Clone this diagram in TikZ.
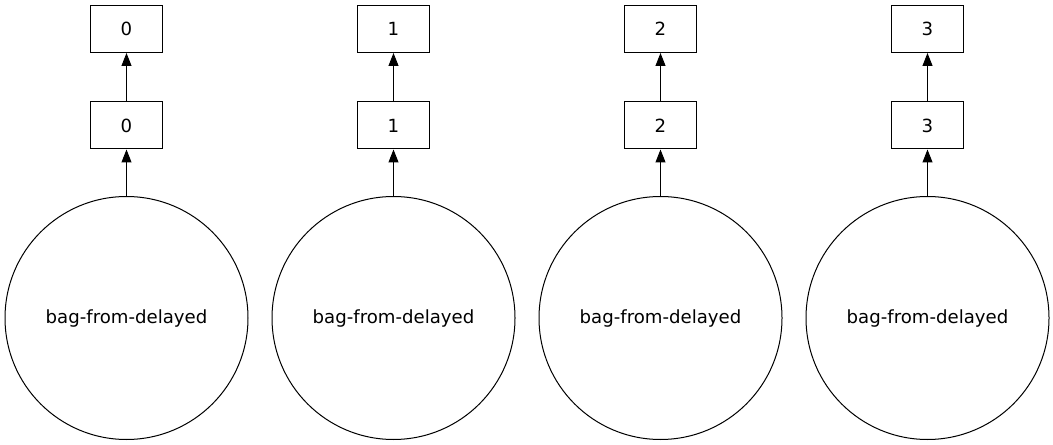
\documentclass[tikz,border=0pt]{standalone}
\usepackage{fontspec}
\setmainfont{DejaVu Sans}
\usetikzlibrary{arrows.meta, positioning}

\tikzset{
  taskbox/.style={draw, line width=0.75pt, minimum width=54pt, minimum height=35.25pt, inner sep=0pt},
  bagcircle/.style={draw, circle, line width=0.75pt, minimum size=182.25pt, inner sep=0pt},
  dep/.style={-{Triangle[length=9.75pt, width=7.5pt]}, line width=0.75pt}
}

\begin{document}
\begin{tikzpicture}[x=0.75pt, y=-0.75pt, font=\fontsize{13.6}{16}\selectfont]
  \useasboundingbox (0,0) rectangle (1053,445);
  % one column per partition
  \foreach \i in {0,...,3} {
    \node[bagcircle] (bag\i) at ({126.5+267*\i},318) {bag-from-delayed};
    \node[taskbox] (mid\i) at ({126.5+267*\i},125.5) {\i};
    \node[taskbox] (top\i) at ({126.5+267*\i},29) {\i};
    % arrows upwards
    \draw[dep] (bag\i) -- (mid\i);
    \draw[dep] (mid\i) -- (top\i);
  }
\end{tikzpicture}
\end{document}
